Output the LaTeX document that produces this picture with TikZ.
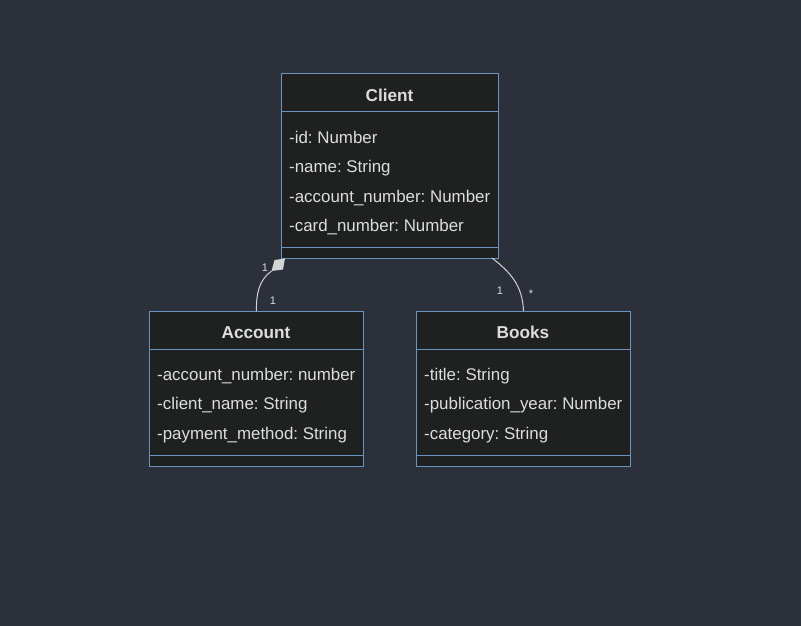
\documentclass[tikz,border=0pt]{standalone}
\usepackage{fontspec}
\setmainfont{Liberation Sans}
\usetikzlibrary{calc}
\frenchspacing

\definecolor{bgcol}{HTML}{2B303B}
\definecolor{boxfill}{HTML}{1F2020}
\definecolor{boxline}{HTML}{6A93BF}
\definecolor{txtcol}{HTML}{DDDDDD}
\definecolor{linkcol}{HTML}{D3D3D3}

\tikzset{
    classbox/.style={draw=boxline, fill=boxfill, line width=1pt, inner sep=0pt, anchor=north west},
    divider/.style={draw=boxline, line width=1pt},
    classtitle/.style={anchor=base, font=\bfseries\fontsize{17.2}{20}\selectfont, text=txtcol, inner sep=0pt},
    attr/.style={anchor=base west, font=\fontsize{16.9}{20}\selectfont, text=txtcol, inner sep=0pt},
    mult/.style={font=\fontsize{11}{13}\selectfont, text=txtcol, inner sep=0pt},
    link/.style={draw=linkcol, line width=1pt}
}

\begin{document}
\begin{tikzpicture}[x=1pt, y=-1pt]
    % Background
    \useasboundingbox[fill=bgcol] (0,0) rectangle (801,626);

    % Client class
    \node[classbox, minimum width=217pt, minimum height=185pt] (client) at (281,73) {};
    \draw[divider] ($(client.north west)+(0,38)$) -- ($(client.north east)+(0,38)$);
    \draw[divider] ($(client.south west)+(0,-12)$) -- ($(client.south east)+(0,-12)$);
    \node[classtitle] (clientT) at (389.5,101) {Client};
    \foreach \i/\t in {0/-id: Number, 1/-name: String, 2/-account\_number: Number, 3/-card\_number: Number} {
        \node[attr] (clientA\i) at (289,143.3+29.5*\i) {\t};
    }

    % Account class
    \node[classbox, minimum width=214pt, minimum height=155pt] (account) at (149,311) {};
    \draw[divider] ($(account.north west)+(0,38)$) -- ($(account.north east)+(0,38)$);
    \draw[divider] ($(account.south west)+(0,-12)$) -- ($(account.south east)+(0,-12)$);
    \node[classtitle] (accountT) at (256,338) {Account};
    \foreach \i/\t in {0/-account\_number: number, 1/-client\_name: String, 2/-payment\_method: String} {
        \node[attr] (accountA\i) at (157,380.3+29.5*\i) {\t};
    }

    % Books class
    \node[classbox, minimum width=214pt, minimum height=155pt] (books) at (416,311) {};
    \draw[divider] ($(books.north west)+(0,38)$) -- ($(books.north east)+(0,38)$);
    \draw[divider] ($(books.south west)+(0,-12)$) -- ($(books.south east)+(0,-12)$);
    \node[classtitle] (booksT) at (523,338) {Books};
    \foreach \i/\t in {0/-title: String, 1/-publication\_year: Number, 2/-category: String} {
        \node[attr] (booksA\i) at (424,380.3+29.5*\i) {\t};
    }

    % Composition Client -- Account
    \coordinate (compTip) at (285,258.5);
    \coordinate (compEnd) at (271.5,271);
    \fill[linkcol] (compTip) -- (283,269.5) -- (compEnd) -- (274.5,260) -- cycle;
    \draw[link] (compEnd) .. controls (259,280) and (256,294) .. (account.north);
    \node[mult] (m1) at (265,268) {1};
    \node[mult] (m2) at (273,301) {1};

    % Association Client -- Books
    \coordinate (assocStart) at (492,258);
    \draw[link] (assocStart) .. controls (510,272) and (522.5,285) .. (books.north);
    \node[mult] (m3) at (500,291) {1};
    \node[mult] (m4) at (531,294) {*};

\end{tikzpicture}
\end{document}
